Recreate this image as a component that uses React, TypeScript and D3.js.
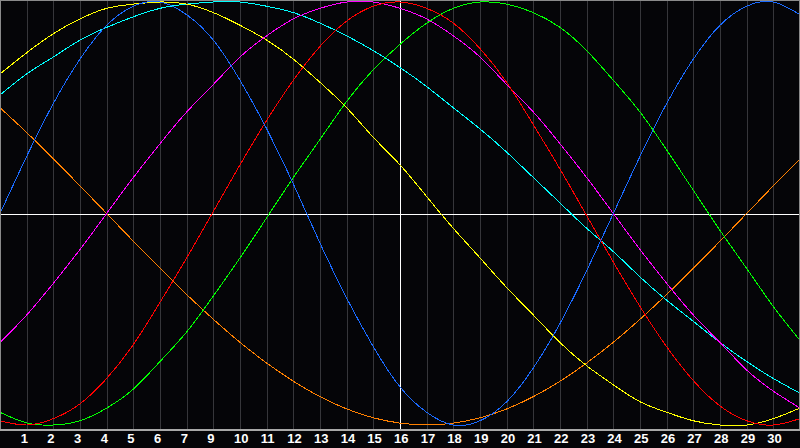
import * as d3 from "d3";
import React from "react";

// day index 0..30, values in percent (-100..100)
const days = d3.range(0, 31);

const physical = [0, 27, 52, 73, 89, 98, 100, 94, 82, 63, 40, 14, -14, -40, -63, -82, -94, -100, -98, -89, -73, -52, -27, 0, 27, 52, 73, 89, 98, 100, 94];
const emotional = [-98, -100, -97, -90, -78, -62, -42, -21, 1, 23, 44, 63, 79, 91, 98, 100, 97, 90, 78, 62, 42, 21, -1, -23, -44, -63, -79, -91, -98, -100, -97];
const intellectual = [-94, -99, -100, -98, -92, -83, -70, -56, -39, -21, -2, 17, 35, 53, 68, 80, 90, 97, 100, 99, 95, 88, 77, 63, 48, 30, 11, -8, -26, -44, -60];
const intuitive = [-61, -48, -33, -17, 0, 17, 33, 48, 61, 74, 84, 92, 97, 100, 100, 97, 92, 84, 74, 61, 48, 33, 17, 0, -17, -33, -48, -61, -74, -84, -92];
const aesthetic = [66, 76, 85, 92, 97, 99, 100, 99, 95, 89, 82, 73, 62, 50, 36, 23, 8, -7, -21, -35, -48, -61, -72, -81, -89, -94, -98, -100, -100, -97, -92];
const awareness = [50, 38.3, 25.9, 13.1, 0, -13.1, -25.9, -38.3, -50, -60.9, -70.7, -79.3, -86.6, -92.4, -96.6, -99.1, -100, -99.1, -96.6, -92.4, -86.6, -79.3, -70.7, -60.9, -50, -38.3, -25.9, -13.1, 0, 13.1, 25.9];
const spiritual = [56, 66, 74, 82, 88, 93, 97, 99, 100, 100, 98, 95, 90, 84, 77, 69, 60, 50, 40, 29, 17, 5, -7, -18, -30, -41, -51, -61, -70, -78, -85];

const dayLabels = ["1", "2", "3", "4", "5", "6", "7", "9", "10", "11", "12", "13", "14", "15", "16", "17", "18", "19", "20", "21", "22", "23", "24", "25", "26", "27", "28", "29", "30"];

const series = [
  { name: "awareness", values: awareness, color: "#ff8000" },
  { name: "spiritual", values: spiritual, color: "#00ffff" },
  { name: "aesthetic", values: aesthetic, color: "#ffff00" },
  { name: "intuitive", values: intuitive, color: "#ff00ff" },
  { name: "intellectual", values: intellectual, color: "#00ff00" },
  { name: "emotional", values: emotional, color: "#ff0000" },
  { name: "physical", values: physical, color: "#1a6aff" },
];

const width = 800;
const height = 448;

export default function App() {
  const svgRef = React.useRef<SVGSVGElement>(null);

  React.useEffect(() => {
    const svg = d3.select(svgRef.current);
    svg.selectAll("*").remove();

    const x = d3.scaleLinear().domain([0, 30]).range([0, width]);
    const y = d3.scaleLinear().domain([-100, 100]).range([425, 2]);
    const axisY = 429.5;

    // background
    svg.append("rect").attr("width", width).attr("height", height).attr("fill", "#050508");

    // vertical day grid
    svg
      .append("g")
      .selectAll("line")
      .data(d3.range(1, 30))
      .enter()
      .append("line")
      .attr("x1", (d) => Math.round(x(d)) + 0.5)
      .attr("x2", (d) => Math.round(x(d)) + 0.5)
      .attr("y1", 0)
      .attr("y2", axisY)
      .attr("stroke", (d) => (d === 15 ? "#ffffff" : "#36363a"))
      .attr("shape-rendering", "crispEdges");

    // zero line
    svg
      .append("line")
      .attr("x1", 0)
      .attr("x2", width)
      .attr("y1", Math.round(y(0)) + 0.5)
      .attr("y2", Math.round(y(0)) + 0.5)
      .attr("stroke", "#ffffff")
      .attr("shape-rendering", "crispEdges");

    // curves
    const line = d3
      .line<number>()
      .x((_, i) => x(days[i]))
      .y((d) => y(d))
      .curve(d3.curveNatural);

    svg
      .append("g")
      .selectAll("path")
      .data(series)
      .enter()
      .append("path")
      .attr("d", (s) => line(s.values))
      .attr("fill", "none")
      .attr("stroke", (s) => s.color)
      .attr("stroke-width", 1)
      .attr("shape-rendering", "crispEdges");

    // frame
    svg
      .append("path")
      .attr("d", `M0.5,${axisY}V0.5H${width - 0.5}V${axisY}`)
      .attr("fill", "none")
      .attr("stroke", "#8a8a8a")
      .attr("shape-rendering", "crispEdges");

    svg
      .append("line")
      .attr("x1", 0)
      .attr("x2", width)
      .attr("y1", axisY)
      .attr("y2", axisY)
      .attr("stroke", "#a8a8a8")
      .attr("stroke-width", 2)
      .attr("shape-rendering", "crispEdges");

    // day labels
    svg
      .append("g")
      .selectAll("text")
      .data(dayLabels)
      .enter()
      .append("text")
      .attr("x", (_, i) => x(i + 1) - 6)
      .attr("y", 443)
      .attr("fill", "#ffffff")
      .attr("font-family", "'Liberation Sans', Arial, sans-serif")
      .attr("font-weight", "bold")
      .attr("font-size", 13)
      .text((d) => d);
  }, []);

  return (
    <div style={{ position: "fixed", left: 0, top: 0 }}>
      <svg ref={svgRef} width={width} height={height} style={{ display: "block" }} />
    </div>
  );
}
